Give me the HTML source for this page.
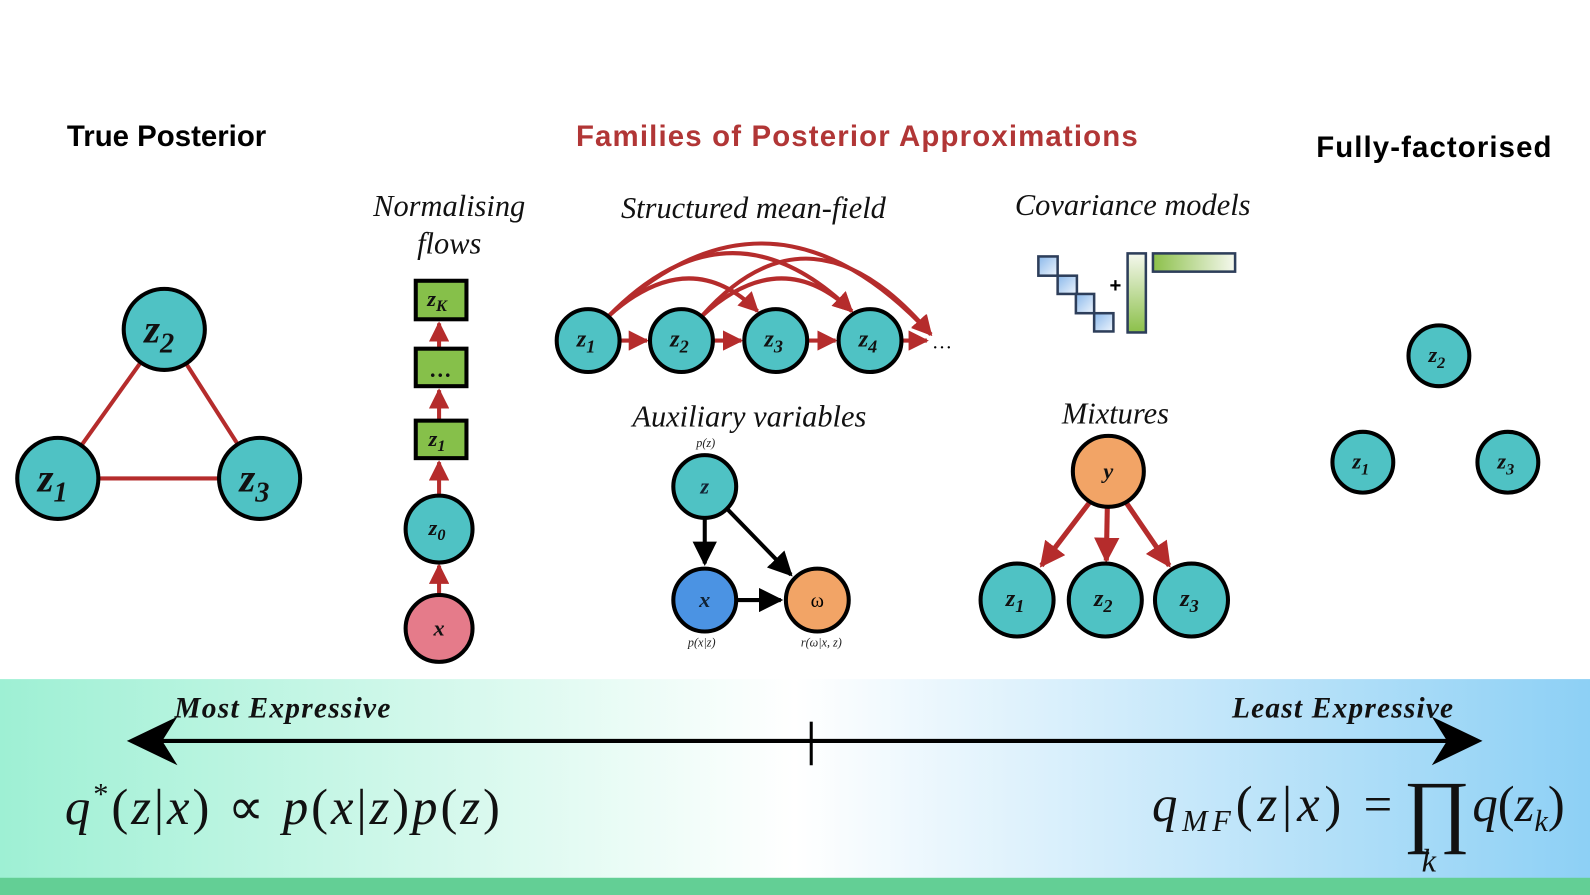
<!DOCTYPE html>
<html><head><meta charset="utf-8"><style>
body{margin:0;width:1590px;height:895px;overflow:hidden;background:#fff}
svg{display:block}
.t{font-family:"Liberation Sans",sans-serif;font-weight:bold}
.s{font-family:"Liberation Serif",serif;font-style:italic}
</style></head><body>
<svg width="1590" height="895" viewBox="0 0 1568 883" preserveAspectRatio="none" xmlns="http://www.w3.org/2000/svg">
<defs>
<linearGradient id="band" x1="0" x2="1" y1="0" y2="0">
<stop offset="0" stop-color="#9ef0d4"/><stop offset="0.5" stop-color="#ffffff"/><stop offset="1" stop-color="#8dd0f5"/>
</linearGradient>
<linearGradient id="bl" x1="0" y1="0" x2="1" y2="1"><stop offset="0" stop-color="#8ab8ea"/><stop offset="1" stop-color="#eef5fd"/></linearGradient>
<linearGradient id="gv" x1="0" y1="0" x2="0" y2="1"><stop offset="0" stop-color="#f5f8ee"/><stop offset="1" stop-color="#8cc04a"/></linearGradient>
<linearGradient id="gh" x1="0" y1="0" x2="1" y2="0"><stop offset="0" stop-color="#8cc04a"/><stop offset="1" stop-color="#f5f8ee"/></linearGradient>
<marker id="ra" viewBox="0 0 10 10" refX="9" refY="5" markerWidth="5" markerHeight="5" orient="auto" markerUnits="strokeWidth"><path d="M0,0L10,5L0,10z" fill="#b52c2c"/></marker>
<marker id="ba" viewBox="0 0 10 10" refX="9" refY="5" markerWidth="6" markerHeight="6" orient="auto" markerUnits="strokeWidth"><path d="M0,0L10,5L0,10z" fill="#000"/></marker>
</defs>

<rect x="0" y="670" width="1568" height="197" fill="url(#band)"/>
<rect x="0" y="866" width="1568" height="20" fill="#63cf95"/>

<text class="t" x="66" y="144" font-size="29">True Posterior</text>
<text class="t" x="845" y="144" font-size="29" fill="#b13636" text-anchor="middle" textLength="554">Families of Posterior Approximations</text>
<text class="t" x="1298" y="155" font-size="29" textLength="232">Fully-factorised</text>

<g class="s" font-size="30" text-anchor="middle" fill="#111">
<text x="443" y="213">Normalising</text><text x="443" y="250">flows</text>
<text x="743" y="215">Structured mean-field</text>
<text x="1117" y="212">Covariance models</text>
<text x="739" y="421">Auxiliary variables</text>
<text x="1100" y="418">Mixtures</text>
</g>

<!-- True posterior -->
<g stroke="#b52c2c" stroke-width="4">
<line x1="57" y1="472" x2="162" y2="325"/><line x1="162" y1="325" x2="256" y2="472"/><line x1="57" y1="472" x2="256" y2="472"/>
</g>
<g fill="#4fc2c4" stroke="#000" stroke-width="4">
<circle cx="162" cy="325" r="40"/><circle cx="57" cy="472" r="40"/><circle cx="256" cy="472" r="40"/>
</g>
<g class="s" font-weight="bold" font-size="40" fill="#111" text-anchor="middle">
<text x="157" y="338">z<tspan font-size="28" dy="10">2</tspan></text>
<text x="52" y="485">z<tspan font-size="28" dy="10">1</tspan></text>
<text x="251" y="485">z<tspan font-size="28" dy="10">3</tspan></text>
</g>

<!-- NF -->
<g stroke="#b52c2c" stroke-width="4" marker-end="url(#ra)">
<line x1="433" y1="587" x2="433" y2="558"/><line x1="433" y1="489" x2="433" y2="456"/>
<line x1="433" y1="415" x2="433" y2="385"/><line x1="433" y1="344" x2="433" y2="319"/>
</g>
<g fill="#86c04a" stroke="#000" stroke-width="4">
<rect x="410" y="277" width="50" height="38"/><rect x="410" y="344" width="50" height="37"/><rect x="410" y="415" width="50" height="37"/>
</g>
<circle cx="433" cy="522" r="33" fill="#4fc2c4" stroke="#000" stroke-width="4"/>
<circle cx="433" cy="620" r="33" fill="#e57b8a" stroke="#000" stroke-width="4"/>
<g class="s" font-weight="bold" font-size="22" fill="#111" text-anchor="middle">
<text x="431" y="302">z<tspan font-size="16" dy="5">K</tspan></text>
<text x="435" y="372">…</text>
<text x="431" y="440">z<tspan font-size="16" dy="5">1</tspan></text>
<text x="431" y="528">z<tspan font-size="16" dy="5">0</tspan></text>
<text x="433" y="627">x</text>
</g>

<!-- SMF -->
<g stroke="#b52c2c" stroke-width="4" fill="none" marker-end="url(#ra)">
<path d="M600,312 Q680,240 747,307"/>
<path d="M600,312 Q720,190 840,307"/>
<path d="M600,312 Q760,160 918,330"/>
<path d="M692,312 Q770,240 840,307"/>
<path d="M692,312 Q800,190 918,330"/>
<line x1="611" y1="336" x2="638" y2="336"/><line x1="703" y1="336" x2="731" y2="336"/>
<line x1="796" y1="336" x2="824" y2="336"/><line x1="889" y1="336" x2="914" y2="336"/>
</g>
<g fill="#4fc2c4" stroke="#000" stroke-width="4">
<circle cx="580" cy="336" r="31"/><circle cx="672" cy="336" r="31"/><circle cx="765" cy="336" r="31"/><circle cx="858" cy="336" r="31"/>
</g>
<g class="s" font-weight="bold" font-size="24" fill="#111" text-anchor="middle">
<text x="578" y="342">z<tspan font-size="18" dy="6">1</tspan></text>
<text x="670" y="342">z<tspan font-size="18" dy="6">2</tspan></text>
<text x="763" y="342">z<tspan font-size="18" dy="6">3</tspan></text>
<text x="856" y="342">z<tspan font-size="18" dy="6">4</tspan></text>
</g>
<text x="919" y="344" font-family="Liberation Serif,serif" font-size="20">…</text>

<!-- Aux -->
<g stroke="#000" stroke-width="4" marker-end="url(#ba)">
<line x1="695" y1="511" x2="695" y2="556"/><line x1="717" y1="502" x2="780" y2="567"/><line x1="726" y1="592" x2="770" y2="592"/>
</g>
<circle cx="695" cy="480" r="31" fill="#4fc2c4" stroke="#000" stroke-width="4"/>
<circle cx="695" cy="592" r="31" fill="#4b93e3" stroke="#000" stroke-width="4"/>
<circle cx="806" cy="592" r="31" fill="#f2a466" stroke="#000" stroke-width="4"/>
<g class="s" font-weight="bold" font-size="22" fill="#123" text-anchor="middle">
<text x="695" y="487">z</text><text x="695" y="599">x</text>
</g>
<text x="806" y="599" font-family="Liberation Serif,serif" font-size="20" text-anchor="middle">ω</text>
<g class="s" font-size="12" text-anchor="middle" fill="#222">
<text x="696" y="441">p(z)</text><text x="692" y="638">p(x|z)</text><text x="810" y="638">r(ω|x, z)</text>
</g>

<!-- Covariance -->
<g stroke="#2d3e5a" stroke-width="2.5" fill="url(#bl)">
<rect x="1024" y="253" width="19" height="19"/><rect x="1043" y="272" width="19" height="18"/>
<rect x="1061" y="290" width="18" height="19"/><rect x="1079" y="309" width="19" height="18"/>
</g>
<text x="1100" y="288" font-family="Liberation Sans,sans-serif" font-weight="bold" font-size="20" text-anchor="middle">+</text>
<rect x="1112" y="250" width="18" height="78" fill="url(#gv)" stroke="#2d3e5a" stroke-width="2.5"/>
<rect x="1137" y="250" width="81" height="18" fill="url(#gh)" stroke="#2d3e5a" stroke-width="2.5"/>

<!-- Mixtures -->
<g stroke="#b52c2c" stroke-width="5" marker-end="url(#ra)">
<line x1="1075" y1="495" x2="1027" y2="558"/><line x1="1092" y1="500" x2="1091" y2="553"/><line x1="1110" y1="495" x2="1153" y2="558"/>
</g>
<circle cx="1093" cy="465" r="35" fill="#f2a466" stroke="#000" stroke-width="4"/>
<g fill="#4fc2c4" stroke="#000" stroke-width="4">
<circle cx="1003" cy="592" r="36"/><circle cx="1090" cy="592" r="36"/><circle cx="1175" cy="592" r="36"/>
</g>
<g class="s" font-weight="bold" font-size="24" fill="#111" text-anchor="middle">
<text x="1093" y="472" font-size="22">y</text>
<text x="1001" y="598">z<tspan font-size="18" dy="6">1</tspan></text>
<text x="1088" y="598">z<tspan font-size="18" dy="6">2</tspan></text>
<text x="1173" y="598">z<tspan font-size="18" dy="6">3</tspan></text>
</g>

<!-- Fully factorised -->
<g fill="#4fc2c4" stroke="#000" stroke-width="4">
<circle cx="1419" cy="351" r="30"/><circle cx="1344" cy="456" r="30"/><circle cx="1487" cy="456" r="30"/>
</g>
<g class="s" font-weight="bold" font-size="22" fill="#111" text-anchor="middle">
<text x="1417" y="357">z<tspan font-size="16" dy="6">2</tspan></text>
<text x="1342" y="462">z<tspan font-size="16" dy="6">1</tspan></text>
<text x="1485" y="462">z<tspan font-size="16" dy="6">3</tspan></text>
</g>

<!-- Axis -->
<line x1="140" y1="731" x2="1447" y2="731" stroke="#000" stroke-width="4"/>
<path d="M125,731 L175,707 L160,731 L175,755z" fill="#000"/>
<path d="M1462,731 L1412,707 L1427,731 L1412,755z" fill="#000"/>
<line x1="800" y1="712" x2="800" y2="755" stroke="#000" stroke-width="3"/>
<g class="s" font-weight="bold" font-size="29" fill="#111">
<text x="172" y="708" textLength="213">Most Expressive</text>
<text x="1215" y="708" textLength="218">Least Expressive</text>
</g>
<g font-family="Liberation Serif,serif" font-size="50" fill="#111">
<text x="64" y="813" textLength="429"><tspan font-style="italic">q</tspan><tspan font-size="30" dy="-20">*</tspan><tspan dy="20">(</tspan><tspan font-style="italic">z</tspan>|<tspan font-style="italic">x</tspan>) ∝ <tspan font-style="italic">p</tspan>(<tspan font-style="italic">x</tspan>|<tspan font-style="italic">z</tspan>)<tspan font-style="italic">p</tspan>(<tspan font-style="italic">z</tspan>)</text>
<text x="1136" y="810" textLength="237"><tspan font-style="italic">q</tspan><tspan font-style="italic" font-size="30" dy="10">MF</tspan><tspan dy="-10">(</tspan><tspan font-style="italic">z</tspan>|<tspan font-style="italic">x</tspan>) =</text>
<text x="1384" y="826" font-size="80">∏</text>
<text x="1452" y="810"><tspan font-style="italic">q</tspan>(<tspan font-style="italic">z</tspan><tspan font-style="italic" font-size="30" dy="10">k</tspan><tspan dy="-10">)</tspan></text>
<text x="1402" y="860" font-style="italic" font-size="32">k</text>
</g>
</svg>
</body></html>
